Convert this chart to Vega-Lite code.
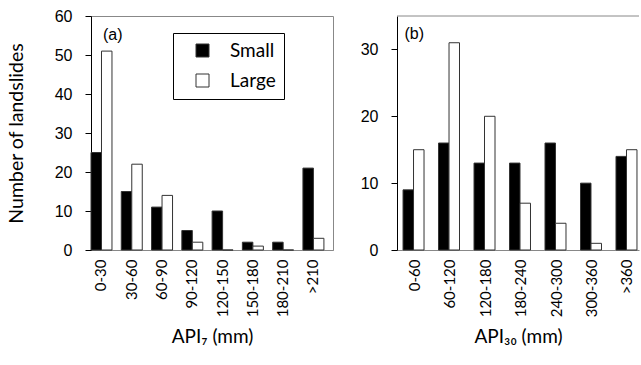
{
  "$schema": "https://vega.github.io/schema/vega-lite/v6.json",
  "padding": {"left": 5, "top": 7, "right": 0, "bottom": 0},
  "background": "white",
  "spacing": 26,
  "datasets": {
    "a": [
      {"cat": "0-30", "size": "Small", "n": 25}, {"cat": "0-30", "size": "Large", "n": 51},
      {"cat": "30-60", "size": "Small", "n": 15}, {"cat": "30-60", "size": "Large", "n": 22},
      {"cat": "60-90", "size": "Small", "n": 11}, {"cat": "60-90", "size": "Large", "n": 14},
      {"cat": "90-120", "size": "Small", "n": 5}, {"cat": "90-120", "size": "Large", "n": 2},
      {"cat": "120-150", "size": "Small", "n": 10}, {"cat": "120-150", "size": "Large", "n": 0},
      {"cat": "150-180", "size": "Small", "n": 2}, {"cat": "150-180", "size": "Large", "n": 1},
      {"cat": "180-210", "size": "Small", "n": 2}, {"cat": "180-210", "size": "Large", "n": 0},
      {"cat": ">210", "size": "Small", "n": 21}, {"cat": ">210", "size": "Large", "n": 3}
    ],
    "b": [
      {"cat": "0-60", "size": "Small", "n": 9}, {"cat": "0-60", "size": "Large", "n": 15},
      {"cat": "60-120", "size": "Small", "n": 16}, {"cat": "60-120", "size": "Large", "n": 31},
      {"cat": "120-180", "size": "Small", "n": 13}, {"cat": "120-180", "size": "Large", "n": 20},
      {"cat": "180-240", "size": "Small", "n": 13}, {"cat": "180-240", "size": "Large", "n": 7},
      {"cat": "240-300", "size": "Small", "n": 16}, {"cat": "240-300", "size": "Large", "n": 4},
      {"cat": "300-360", "size": "Small", "n": 10}, {"cat": "300-360", "size": "Large", "n": 1},
      {"cat": ">360", "size": "Small", "n": 14}, {"cat": ">360", "size": "Large", "n": 15}
    ],
    "la": [{"panel": "(a)", "cat": "0-30", "n": 55.2}],
    "lb": [{"panel": "(b)", "cat": "0-60", "n": 32.3}],
    "topb": [{"n": 35}]
  },
  "hconcat": [
    {
      "width": 242,
      "height": 234,
      "view": {"stroke": "#888", "strokeWidth": 1},
      "encoding": {
        "x": {
          "field": "cat", "type": "nominal",
          "sort": ["0-30", "30-60", "60-90", "90-120", "120-150", "150-180", "180-210", ">210"],
          "scale": {"domain": ["0-30", "30-60", "60-90", "90-120", "120-150", "150-180", "180-210", ">210"], "paddingInner": 0.307, "paddingOuter": 0.15, "align": 0},
          "axis": {"title": "API₇ (mm)", "labelAngle": 270, "ticks": false, "labelPadding": 9, "domainColor": "#888", "labelFont": "Lato", "labelFontSize": 15, "labelColor": "black", "titleFont": "Lato", "titleFontSize": 19, "titleFontWeight": "normal", "titleColor": "black", "titlePadding": 11}
        },
        "y": {
          "field": "n", "type": "quantitative",
          "scale": {"domain": [0, 60], "nice": false},
          "axis": {"title": "Number of landslides", "values": [0, 10, 20, 30, 40, 50, 60], "labelOverlap": false, "grid": false, "domainColor": "black", "tickColor": "black", "tickSize": 6, "labelPadding": 13, "labelFont": "Liberation Sans", "labelFontSize": 16, "labelColor": "black", "titleFont": "Lato", "titleFontSize": 19.5, "titleFontWeight": "normal", "titleColor": "black", "titlePadding": 28}
        }
      },
      "layer": [
        {
          "data": {"name": "a"},
          "mark": {"type": "bar", "stroke": "#333", "strokeWidth": 1},
          "encoding": {
            "xOffset": {"field": "size", "type": "nominal", "sort": ["Small", "Large"]},
            "color": {
              "field": "size", "type": "nominal",
              "scale": {"domain": ["Small", "Large"], "range": ["black", "white"]},
              "legend": {"orient": "none", "legendX": 82, "legendY": 17, "title": null, "symbolType": "square", "symbolSize": 169, "symbolStrokeColor": "#333", "symbolStrokeWidth": 1, "labelFont": "Lato", "labelFontSize": 19, "labelColor": "black", "padding": 8, "symbolOffset": 12, "labelOffset": 18, "rowPadding": 10, "strokeColor": "black", "fillColor": "white", "labelExpr": "datum.label + '     '"}
            }
          }
        },
        {
          "data": {"name": "la"},
          "mark": {"type": "text", "align": "left", "baseline": "middle", "dx": 1.5, "font": "Liberation Sans", "fontSize": 16, "color": "black"},
          "encoding": {
            "text": {"field": "panel"}
          }
        }
      ]
    },
    {
      "width": 242,
      "height": 234,
      "view": {"stroke": null},
      "encoding": {
        "y": {
          "field": "n", "type": "quantitative",
          "scale": {"domain": [0, 35], "nice": false},
          "axis": {"title": null, "values": [0, 10, 20, 30], "labelOverlap": false, "grid": false, "domainColor": "black", "tickColor": "black", "tickSize": 6, "labelPadding": 13, "labelFont": "Liberation Sans", "labelFontSize": 16, "labelColor": "black"}
        }
      },
      "layer": [
        {
          "data": {"name": "b"},
          "mark": {"type": "bar", "stroke": "#333", "strokeWidth": 1},
          "encoding": {
            "x": {
              "field": "cat", "type": "nominal",
              "sort": ["0-60", "60-120", "120-180", "180-240", "240-300", "300-360", ">360"],
              "scale": {"domain": ["0-60", "60-120", "120-180", "180-240", "240-300", "300-360", ">360"], "paddingInner": 0.352, "paddingOuter": 0.085, "align": 1},
              "axis": {"title": "API₃₀ (mm)", "labelAngle": 270, "ticks": false, "labelPadding": 9, "domainColor": "#888", "labelFont": "Lato", "labelFontSize": 15, "labelColor": "black", "titleFont": "Lato", "titleFontSize": 19, "titleFontWeight": "normal", "titleColor": "black", "titlePadding": 11}
            },
            "xOffset": {"field": "size", "type": "nominal", "sort": ["Small", "Large"]},
            "color": {
              "field": "size", "type": "nominal",
              "scale": {"domain": ["Small", "Large"], "range": ["black", "white"]},
              "legend": null
            }
          }
        },
        {
          "data": {"name": "topb"},
          "mark": {"type": "rule", "color": "#888", "strokeWidth": 1}
        },
        {
          "data": {"name": "lb"},
          "mark": {"type": "text", "align": "left", "baseline": "middle", "dx": -10, "font": "Liberation Sans", "fontSize": 16, "color": "black"},
          "encoding": {
            "x": {
              "field": "cat", "type": "nominal",
              "sort": ["0-60", "60-120", "120-180", "180-240", "240-300", "300-360", ">360"],
              "scale": {"domain": ["0-60", "60-120", "120-180", "180-240", "240-300", "300-360", ">360"], "paddingInner": 0.352, "paddingOuter": 0.085, "align": 1},
              "axis": {"title": "API₃₀ (mm)", "labelAngle": 270, "ticks": false, "labelPadding": 9, "domainColor": "#888", "labelFont": "Lato", "labelFontSize": 15, "labelColor": "black", "titleFont": "Lato", "titleFontSize": 19, "titleFontWeight": "normal", "titleColor": "black", "titlePadding": 11}
            },
            "text": {"field": "panel"}
          }
        }
      ]
    }
  ],
  "resolve": {"scale": {"color": "independent", "y": "independent", "x": "independent"}, "legend": {"color": "independent"}},
  "config": {"axis": {"domainWidth": 1, "tickWidth": 1}}
}
